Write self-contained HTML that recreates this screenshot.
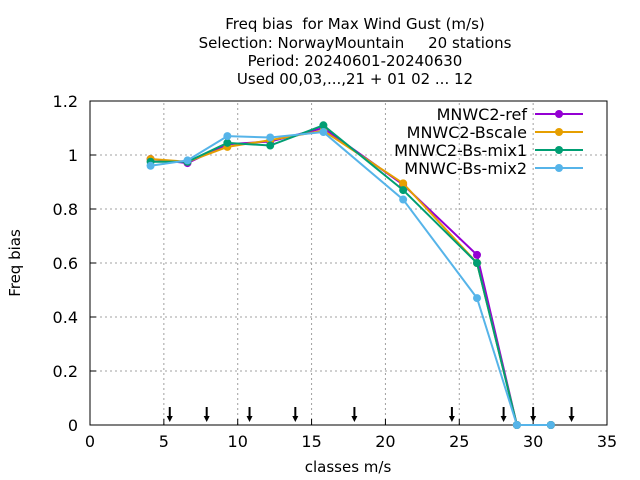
<!DOCTYPE html>
<html><head><meta charset="utf-8"><style>
body{margin:0;background:#fff;}
svg{display:block;font-family:"DejaVu Sans","Liberation Sans",sans-serif;}
svg text{white-space:pre;}
</style></head><body>
<svg id="c" width="640" height="480" xmlns="http://www.w3.org/2000/svg" xml:space="preserve">
<g font-size="15" text-anchor="middle" fill="#000">
<text x="355" y="29">Freq bias  for Max Wind Gust (m/s)</text>
<text x="355" y="48">Selection: NorwayMountain     20 stations</text>
<text x="355" y="66">Period: 20240601-20240630</text>
<text x="355" y="84">Used 00,03,...,21 + 01 02 ... 12</text>
</g>
<text x="348" y="472" font-size="15" text-anchor="middle">classes m/s</text>
<text transform="translate(20,263) rotate(-90)" font-size="15" text-anchor="middle">Freq bias</text>
</svg>
<script>
const xTicks=[0,5,10,15,20,25,30,35];
const yTicks=[0,0.2,0.4,0.6,0.8,1,1.2];
const yTickLabels=["0","0.2","0.4","0.6","0.8","1","1.2"];
const xClasses=[4.1,6.6,9.3,12.2,15.8,21.2,26.2,28.9,31.2];
const seriesNames=["MNWC2-ref","MNWC2-Bscale","MNWC2-Bs-mix1","MNWC-Bs-mix2"];
const refVals=[0.985,0.97,1.04,1.05,1.10,0.89,0.63,0,0];
const bscaleVals=[0.985,0.975,1.03,1.055,1.09,0.895,0.60,0,0];
const mix1Vals=[0.975,0.975,1.045,1.035,1.11,0.87,0.60,0,0];
const mix2Vals=[0.96,0.98,1.07,1.065,1.085,0.835,0.47,0,0];
const arrowX=[5.4,7.9,10.8,13.9,17.9,24.5,28.0,30.0,32.6];
const colors=["#9400d3","#e69f00","#009e73","#56b4e9"];
const NS="http://www.w3.org/2000/svg";
const svg=document.getElementById('c');
const X0=90,X1=607,Y0=425,Y1=101;
const sx=v=>X0+(v-0)/(35-0)*(X1-X0);
const sy=v=>Y0-(v-0)/(1.2-0)*(Y0-Y1);
function mk(t,a,p){const e=document.createElementNS(NS,t);for(const k in a)e.setAttribute(k,a[k]);(p||svg).appendChild(e);return e;}
const grid=mk('g',{});


xTicks.forEach((t,i)=>{
 if(i>0&&i<xTicks.length-1)mk('line',{x1:sx(t),x2:sx(t),y1:Y0,y2:Y1,stroke:'#a0a0a0','stroke-dasharray':'2,3'},grid);
 const tx=mk('text',{x:sx(t),y:Y0+22,'font-size':16,'text-anchor':'middle'});
 
 
 tx.textContent=t;
 mk('line',{x1:sx(t),x2:sx(t),y1:Y0,y2:Y0-6,stroke:'#000'});
});
yTicks.forEach((t,i)=>{
 if(i>0&&i<yTicks.length-1)mk('line',{x1:X0,x2:X1,y1:sy(t),y2:sy(t),stroke:'#a0a0a0','stroke-dasharray':'2,3'},grid);
 const tx=mk('text',{x:X0-12,y:sy(t)+6,'font-size':16,'text-anchor':'end'});
 
 
 tx.textContent=yTickLabels[i];
 mk('line',{x1:X0,x2:X0+6,y1:sy(t),y2:sy(t),stroke:'#000'});
});
const frame=mk('rect',{x:X0,y:Y1,width:X1-X0,height:Y0-Y1,fill:'none',stroke:'#000'});


arrowX.forEach(a=>{
 const g=mk('g',{});
 
 
 mk('line',{x1:sx(a),x2:sx(a),y1:407,y2:418,stroke:'#000','stroke-width':2},g);
 mk('polygon',{points:`${sx(a)-3},416 ${sx(a)+3},416 ${sx(a)},422`,fill:'#000'},g);
});
const allVals=[refVals,bscaleVals,mix1Vals,mix2Vals];
allVals.forEach((vals,s)=>{
 const g=mk('g',{});
 
 
 const pts=vals.map((v,i)=>sx(xClasses[i])+','+sy(v)).join(' ');
 mk('polyline',{points:pts,fill:'none',stroke:colors[s],'stroke-width':2},g);
 vals.forEach((v,i)=>{
  const c=mk('circle',{cx:sx(xClasses[i]),cy:sy(v),r:4,fill:colors[s]},g);
  
  
 });
 const ly=114+s*18;
 const lg=mk('g',{});
 
 
 const t=mk('text',{x:527,y:ly+6,'font-size':16,'text-anchor':'end'},lg);
 t.textContent=seriesNames[s];
 mk('line',{x1:535,x2:583,y1:ly,y2:ly,stroke:colors[s],'stroke-width':2},lg);
 mk('circle',{cx:559,cy:ly,r:4,fill:colors[s]},lg);
});
</script>
</body></html>
